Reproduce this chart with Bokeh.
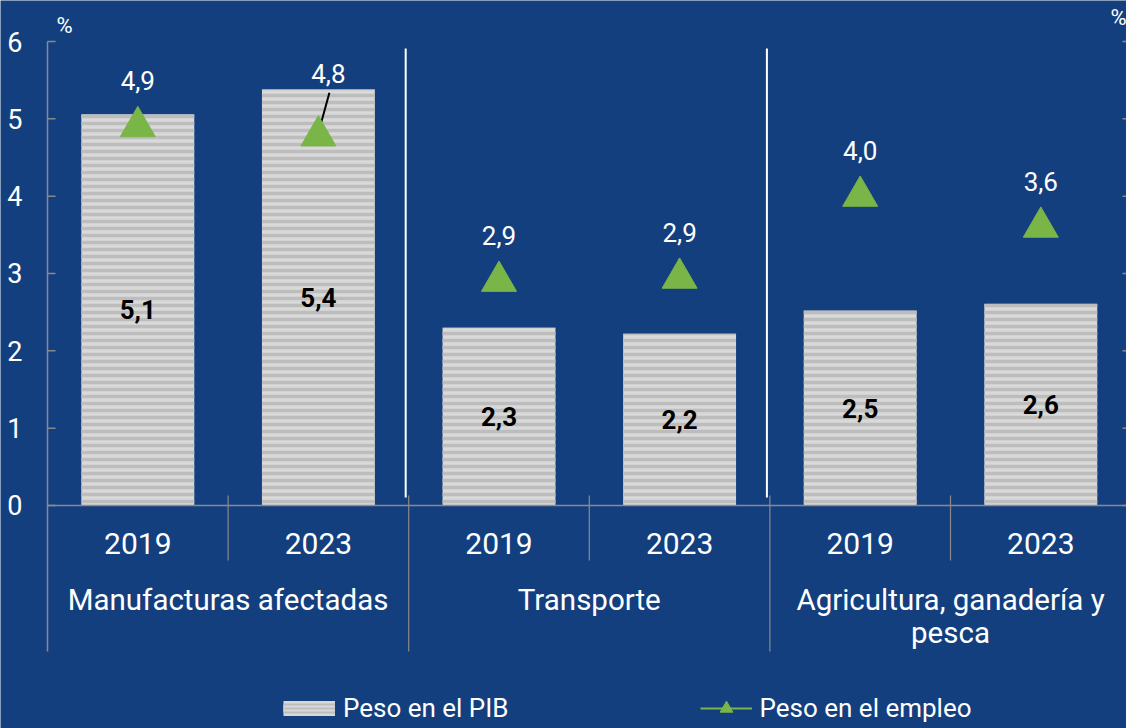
from bokeh.plotting import figure
from bokeh.models import Range1d, Legend, LegendItem
from bokeh.core.properties import value
from bokeh.embed import file_html
from bokeh.resources import INLINE

# ---------------- data ----------------
groups = ["Manufacturas afectadas", "Transporte", "Agricultura, ganadería y\npesca"]
years = ["2019", "2023"]
pib = [5.06, 5.38, 2.30, 2.22, 2.52, 2.61]
empleo = [4.90, 4.78, 2.90, 2.94, 4.00, 3.60]
y_ticks = [0, 1, 2, 3, 4, 5, 6]
legend_labels = ["Peso en el PIB", "Peso en el empleo"]
unit = "%"

# label placement (pixels) for the employment labels
emp_label_dx = [0, 10, 0, 0, 0, 0]
emp_label_dy = [-46, -62, -46, -46, -46, -46]

# ---------------- style ----------------
BG = "#133f7f"
AXIS = "#8a8a8a"
GREEN = "#7ab547"
LIGHT = "#d9d9d9"
DARK = "#bdbdbd"
FONT = "Roboto"

W, H = 1126, 728
LEFT = 47          # pixel column of the value axis
cat_px = 180.6     # pixels per category
px_unit = 77.333   # pixels per percentage point
TOP6 = 41          # pixel row of the 6 tick
x_min = -LEFT / cat_px
x_max = (W - LEFT) / cat_px
y_top = 6 + TOP6 / px_unit
y_bot = -(H - TOP6 - 6 * px_unit) / px_unit

def fmt(v):
    return f"{v:.1f}".replace(".", ",")

n = len(pib)
xs = [i + 0.5 for i in range(n)]

p = figure(width=W, height=H, output_backend="svg", toolbar_location=None,
           x_range=Range1d(x_min, x_max), y_range=Range1d(y_bot, y_top),
           x_axis_location=None, y_axis_location=None, min_border=0)
p.title.visible = False
p.background_fill_color = BG
p.border_fill_color = BG
p.outline_line_color = None
p.grid.visible = False

# value axis: line, ticks and labels
p.segment(x0=[0], y0=[-146 / px_unit], x1=[0], y1=[y_ticks[-1]], line_color=AXIS, line_width=1.5)
p.segment(x0=[0] * len(y_ticks), y0=y_ticks, x1=[8 / cat_px] * len(y_ticks), y1=y_ticks,
          line_color=AXIS, line_width=1.5)
p.text(x=[-25 / cat_px] * len(y_ticks), y=y_ticks, text=[str(t) for t in y_ticks],
       text_font=value(FONT), text_font_size="27px", text_color="white",
       text_align="right", text_baseline="middle")
# right-side ticks
p.segment(x0=[x_max - 4 / cat_px] * len(y_ticks), y0=y_ticks,
          x1=[x_max] * len(y_ticks), y1=y_ticks, line_color=AXIS, line_width=1.5)

# bars
bars = p.vbar(x=xs, top=pib, width=0.625, bottom=0,
              fill_color=LIGHT, line_color=None,
              hatch_pattern="horizontal_line", hatch_color=DARK,
              hatch_scale=7, hatch_weight=3.5)

# category axis lines
p.segment(x0=[0], y0=[0], x1=[x_max], y1=[0], line_color=AXIS, line_width=1.5)
short_x = [1, 3, 5]
long_x = [2, 4]
p.segment(x0=short_x, y0=[10 / px_unit] * 3, x1=short_x, y1=[-55 / px_unit] * 3,
          line_color=AXIS, line_width=1.2)
p.segment(x0=long_x, y0=[10 / px_unit] * 2, x1=long_x, y1=[-146 / px_unit] * 2,
          line_color=AXIS, line_width=1.2)
wx = [g - 3 / cat_px for g in long_x]
p.segment(x0=wx, y0=[8 / px_unit] * 2, x1=wx, y1=[457 / px_unit] * 2,
          line_color="white", line_width=2)

# leader lines for shifted labels
lx0, ly0, lx1, ly1 = [], [], [], []
for i in range(n):
    if emp_label_dx[i] != 0:
        lx0.append(xs[i]); ly0.append(empleo[i] + 3 / px_unit)
        lx1.append(xs[i] + (emp_label_dx[i] + 1) / cat_px)
        ly1.append(empleo[i] + (-emp_label_dy[i] - 19) / px_unit)
p.segment(x0=lx0, y0=ly0, x1=lx1, y1=ly1, line_color="black", line_width=2)

# triangles
tri = p.scatter(x=xs, y=empleo, marker="triangle", size=35,
                fill_color=GREEN, line_color=GREEN)

# value labels
p.text(x=xs, y=[v / 2 for v in pib], text=[fmt(v) for v in pib],
       text_font=value(FONT), text_font_style="bold", text_font_size="26px",
       text_color="black", text_align="center", text_baseline="middle")
p.text(x=xs, y=empleo, text=[fmt(v) for v in empleo],
       x_offset=emp_label_dx, y_offset=emp_label_dy,
       text_font=value(FONT), text_font_size="26px",
       text_color="white", text_align="center", text_baseline="middle")

# category labels
p.text(x=xs, y=[-38 / px_unit] * n, text=[years[i % 2] for i in range(n)],
       text_font=value(FONT), text_font_size="30px", text_color="white",
       text_align="center", text_baseline="middle")
gx, gy, gt = [], [], []
for g, name in enumerate(groups):
    for k, line in enumerate(name.split("\n")):
        gx.append(2 * g + 1)
        gy.append(-(95 + 33 * k) / px_unit)
        gt.append(line)
p.text(x=gx, y=gy, text=gt, text_font=value(FONT), text_font_size="29.5px",
       text_color="white", text_align="center", text_baseline="middle")

# unit labels
p.text(x=[17 / cat_px], y=[6 + 16 / px_unit], text=[unit], text_font=value(FONT),
       text_font_size="22px", text_color="white", text_align="center",
       text_baseline="middle")
p.text(x=[x_max - 16 / cat_px], y=[6 + 24 / px_unit], text=[unit], text_font=value(FONT),
       text_font_size="22px", text_color="white", text_align="left",
       text_baseline="middle")

# legend (dummy renderers give the swatches)
nan = float("nan")
s1 = p.line([nan], [nan], line_color=LIGHT, line_width=15)
s2 = p.line([nan], [nan], line_color=DARK, line_width=10)
s3 = p.line([nan], [nan], line_color=LIGHT, line_width=6)
s4 = p.line([nan], [nan], line_color=DARK, line_width=2)
lg = p.line([nan], [nan], line_color=GREEN, line_width=2)
legend = Legend(items=[LegendItem(label=legend_labels[0], renderers=[s1, s2, s3, s4]),
                       LegendItem(label=legend_labels[1], renderers=[lg, tri])],
                orientation="horizontal", location=(283, 4),
                glyph_width=52, glyph_height=32, label_standoff=8, spacing=191,
                padding=0, margin=0, background_fill_alpha=0, border_line_color=None,
                label_text_color="white", label_text_font=FONT,
                label_text_font_size="26px")
p.add_layout(legend)

open("out.html", "w").write(file_html(p, INLINE, title="chart"))
